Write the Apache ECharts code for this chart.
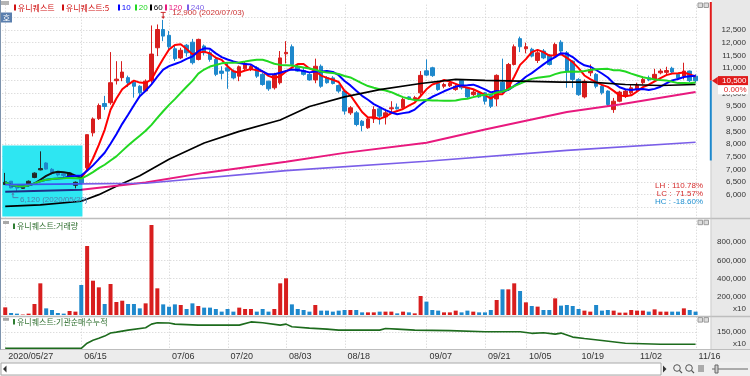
<!DOCTYPE html>
<html><head><meta charset="utf-8">
<script src="https://cdn.jsdelivr.net/npm/echarts/dist/echarts.min.js"></script>
<style>html,body{margin:0;padding:0;background:#fff}#c{width:750px;height:376px}</style>
</head><body><div id="c"></div>
<script>
const dates = ['05/27','05/28','05/29',
'06/01','06/02','06/03','06/04','06/05','06/08','06/09','06/10','06/11','06/12','06/15','06/16','06/17','06/18','06/19','06/22','06/23','06/24','06/25','06/26','06/29','06/30',
'07/01','07/02','07/03','07/06','07/07','07/08','07/09','07/10','07/13','07/14','07/15','07/16','07/17','07/20','07/21','07/22','07/23','07/24','07/27','07/28','07/29','07/30','07/31',
'08/03','08/04','08/05','08/06','08/07','08/10','08/11','08/12','08/13','08/14','08/18','08/19','08/20','08/21','08/24','08/25','08/26','08/27','08/28','08/31',
'09/01','09/02','09/03','09/04','09/07','09/08','09/09','09/10','09/11','09/14','09/15','09/16','09/17','09/18','09/21','09/22','09/23','09/24','09/25','09/28','09/29',
'10/05','10/06','10/07','10/08','10/12','10/13','10/14','10/15','10/16','10/19','10/20','10/21','10/22','10/23','10/26','10/27','10/28','10/29','10/30',
'11/02','11/03','11/04','11/05','11/06','11/09','11/10','11/11','11/12','11/13','11/16'];

const opens = [6400,6530,6290,6250,6420,6680,6980,7250,7000,6880,
6820,6720,6370,6650,7060,8440,9000,9600,9630,10500,
10620,10620,10440,10280,10100,10500,11800,12520,12290,11760,
11400,11900,12020,11340,11870,11600,11340,10880,11010,10880,
10680,10970,10960,11010,10750,10480,10220,10420,11560,11840,
11070,10900,10750,10530,11070,10620,10610,10310,10090,9230,
9230,8900,8640,8990,9390,9070,9390,9450,9430,9860,
9760,10020,10890,11010,10390,10280,10300,10150,10510,10220,
9950,10020,10020,9920,9780,10440,10180,11140,12160,11760,
11740,11300,11670,11500,11470,12020,11600,11270,10550,9860,
10810,10750,10280,10090,9360,9690,9890,10020,10150,10420,
10610,10550,10810,10830,10990,10750,10680,10880,10680];

const closes = [6490,6270,6260,6280,6530,6850,7030,7010,6850,6780,
6760,6850,6490,6440,8370,8990,9520,9480,10420,10560,
10840,10420,10280,10020,10480,11550,12520,12260,11840,11370,
11700,11600,11210,12130,11600,11340,10750,10790,10880,10610,
11050,11180,11060,10680,10350,10180,10750,11400,11620,11140,
10880,10750,10530,11070,10280,10420,10390,10090,9300,9430,
8770,8730,8990,9360,9100,9230,9430,9390,9760,9780,
9830,10710,10720,10700,10150,10350,10400,10280,10220,9860,
10050,9860,9690,9490,10710,10090,11140,11840,11840,11840,
11470,11600,11400,11140,11930,11670,10880,10550,9950,10480,
10940,10280,10020,9560,9690,10050,10090,10220,10310,10550,
10530,10750,10880,10900,10840,10610,10880,10500,10500];

const lows = [6390,6250,6120,6230,6400,6650,6960,6990,6800,6720,
6700,6700,6250,6400,6950,8300,8950,9350,9550,10350,
10480,10250,9830,9850,10050,10420,11470,12060,11730,11280,
11350,11450,11140,11300,11500,11250,10680,10550,10180,10550,
10480,10900,10880,10610,10300,10100,10150,10350,11180,11070,
10850,10700,10500,10400,10220,10380,10350,10020,9160,9150,
8700,8500,8600,8830,8770,8770,9230,9360,9360,9740,
9700,9890,10680,10650,10100,10200,10250,10100,10150,9820,
9900,9820,9560,9420,9490,10020,10100,11100,11630,11580,
11420,11200,11350,11100,11400,11600,10220,10220,9900,9800,
10680,10200,9950,9500,9230,9650,9820,9950,10090,10350,
10480,10480,10750,10750,10780,10560,10550,10450,10420];

const highs = [6860,6540,6300,6300,6560,6880,7710,7280,7050,6900,
6840,6880,6520,6700,8370,9050,9600,9900,11630,11270,
11270,10700,10500,10320,10550,12680,12720,12900,12460,11870,
11800,11950,12150,12160,11930,11700,11450,11070,11210,10940,
11100,11250,11150,11070,10800,10500,10810,11670,12060,11930,
11150,11000,10800,11370,11140,10680,10680,10350,10120,9500,
9300,8950,9050,9490,9420,9390,9690,9600,9820,9890,
9900,10880,11340,11050,10450,10420,10480,10350,10550,10250,
10150,10050,10050,9950,10750,11370,11200,11930,12240,12000,
11800,11730,11750,11550,12000,12100,11670,11300,10600,10550,
11140,10800,10350,10120,9820,10100,10150,10350,10420,10680,
10700,10970,10970,11050,11050,10800,11210,10900,10750];

const volumes = [84000,22000,15000,5000,15000,121000,348000,73000,55000,22000,
15000,44000,37000,330000,758000,377000,304000,121000,341000,143000,
157000,121000,121000,73000,128000,989000,293000,117000,91000,117000,
110000,66000,128000,99000,81000,81000,66000,37000,66000,37000,
81000,66000,66000,37000,66000,37000,66000,348000,403000,117000,
66000,55000,37000,110000,48000,48000,37000,48000,55000,55000,
55000,29000,29000,29000,37000,37000,37000,18000,37000,29000,
18000,209000,147000,55000,48000,29000,29000,48000,29000,48000,
37000,29000,29000,55000,165000,282000,282000,348000,264000,139000,
99000,92000,55000,55000,183000,103000,110000,99000,66000,48000,
37000,110000,48000,55000,48000,26000,26000,55000,48000,48000,
37000,62000,37000,37000,37000,37000,73000,55000,37000];

// long moving averages (need history before the visible window): [dayIndex, value]
const ma60Knots = [[0,5540],[6,5600],[13,5740],[16,6000],[19,6330],[23,6750],[28,7400],[34,8040],[40,8500],[47,8950],[52,9480],[58,9860],[64,10150],[71,10390],[77,10550],[82,10510],[88,10480],[95,10440],[100,10440],[106,10350],[112,10310],[118,10350]];
const ma120Knots = [[0,6120],[13,6190],[24,6480],[34,6860],[48,7300],[58,7650],[72,8050],[82,8570],[96,9260],[105,9560],[118,10050]];
const ma240Knots = [[0,6400],[13,6430],[24,6450],[48,6950],[72,7320],[96,7750],[118,8070]];
// institutional cumulative net buying: [dayIndex, value]
const instKnots = [[0,2000],[13,2000],[14,48000],[15,75000],[16,92000],[17,112000],[18,140000],[19,148000],[21,166000],[24,187000],[25,220000],[26,232000],[28,230000],[29,220000],[33,211000],[40,211000],[42,240000],[44,232000],[47,211000],[48,220000],[49,197000],[52,184000],[55,175000],[57,166000],[64,166000],[65,180000],[67,175000],[70,166000],[76,161000],[82,151000],[88,151000],[90,137000],[92,142000],[94,130000],[95,139000],[97,103000],[99,90000],[102,72000],[106,47000],[112,38000],[118,38000]];

const maPeriods = [5,10,20,60,120,240];
const xTickIndex = [0,13,28,38,48,58,72,82,89,98,108,118];
const xTickText = ['2020/05/27','06/15','07/06','07/20','08/03','08/18','09/07','09/21','10/05','10/19','11/02','11/16'];
const priceTickRange = [6000,12500];
const volumeTicks = [200000,400000,600000,800000];
const instTicks = [150000];
const highlightBox = {x0:-0.5, x1:13.2, yLow:5140, yHigh:7940};
const stockName = '유니퀘스트';
const year = '2020';
</script>
<script>
const RED='#d81e1e', BLUE='#1e88cc', CJK='"Noto Sans CJK KR"', LAT='"Liberation Sans"';
const MA_COLORS=['#ff0000','#0000ff','#22d822','#000000','#e8197e','#7a5ee8'];
const N = dates.length;
function sma(n){return closes.map((c,i)=>{const s=Math.max(0,i-n+1);let t=0;for(let k=s;k<=i;k++)t+=closes[k];return Math.round(t/(i-s+1));});}
const fmt = v => Number(v).toLocaleString('en-US');
const isUp = i => closes[i] > opens[i] || (closes[i]===opens[i] && i>0 && closes[i]>=closes[i-1]);

const gridL=2.3, gridW=696.2;
const grids=[
 {left:gridL, top:4.7, width:gridW, height:215.3},
 {left:gridL, top:224, width:gridW, height:91},
 {left:gridL, top:318.6, width:gridW, height:29.9}
];
// pixel x of the highlight box right edge, for two-colour line gradients
const boxEdgePx = gridL + (highlightBox.x1+0.5)*gridW/N;
const split2 = (c1,c2)=>({type:'linear', x:0, y:0, x2:750, y2:0, global:true,
  colorStops:[{offset:0,color:c1},{offset:boxEdgePx/750,color:c1},{offset:boxEdgePx/750+0.0001,color:c2},{offset:1,color:c2}]});

const splitStyle={show:true, showMinLine:false, showMaxLine:false, lineStyle:{color:'#cfcfcf', type:[1,2], width:1}};
const ylab = {fontSize:8, fontFamily:LAT, color:'#333', align:'right', margin:47.5};

const candleData = dates.map((d,i)=>{
  const it={value:[opens[i],closes[i],lows[i],highs[i]]};
  if(i<=13 && closes[i]>opens[i]) it.itemStyle={color:'#262626',borderColor:'#262626'};
  return it;
});
const volData = volumes.map((v,i)=>({value:v, itemStyle:{color: isUp(i)?RED:BLUE}}));

const option={
 animation:false,
 backgroundColor:'#ffffff',
 grid:grids,
 xAxis:[
  {type:'category', gridIndex:0, data:dates, show:false},
  {type:'category', gridIndex:1, data:dates, show:false},
  {type:'category', gridIndex:2, data:dates, axisLine:{show:false}, axisTick:{show:false}, splitLine:{show:false},
   axisLabel:{interval:(idx)=>xTickIndex.includes(idx), hideOverlap:false,
     formatter:(val,idx)=>{const k=xTickIndex.indexOf(idx);return k>=0?xTickText[k]:'';},
     align:'left', padding:[0,0,0,3], fontSize:9, fontFamily:LAT, color:'#333', margin:4}},
  {type:'value', gridIndex:0, min:-0.5, max:N-0.5, show:false}
 ],
 yAxis:[
  {type:'value', gridIndex:0, position:'right', min:5000, max:13500, interval:500, axisLine:{show:false}, axisTick:{show:false},
   splitLine:splitStyle, axisLabel:Object.assign({formatter:v=>(v>=priceTickRange[0]&&v<=priceTickRange[1])?fmt(v):''},ylab)},
  {type:'value', gridIndex:1, position:'right', min:0, max:1000000, interval:200000, axisLine:{show:false}, axisTick:{show:false},
   splitLine:splitStyle, axisLabel:Object.assign({formatter:v=>volumeTicks.includes(v)?fmt(v):''},ylab)},
  {type:'value', gridIndex:2, position:'right', min:0, max:270000, interval:150000, axisLine:{show:false}, axisTick:{show:false},
   splitLine:splitStyle, axisLabel:Object.assign({formatter:v=>instTicks.includes(v)?fmt(v):''},ylab)}
 ],
 series:[
  {type:'candlestick', xAxisIndex:0, yAxisIndex:0, barWidth:4, z:3, data:candleData,
   itemStyle:{color:RED, color0:BLUE, borderColor:RED, borderColor0:BLUE, borderWidth:1}},
  {type:'line', xAxisIndex:0, yAxisIndex:0, data:sma(maPeriods[0]), showSymbol:false, z:4, lineStyle:{width:2, color:split2('#111111',MA_COLORS[0])}},
  {type:'line', xAxisIndex:0, yAxisIndex:0, data:sma(maPeriods[1]), showSymbol:false, z:4, lineStyle:{width:2, color:MA_COLORS[1]}},
  {type:'line', xAxisIndex:0, yAxisIndex:0, data:sma(maPeriods[2]), showSymbol:false, z:4, lineStyle:{width:2, color:MA_COLORS[2]}},
  {type:'line', xAxisIndex:0, yAxisIndex:0, data:ma60Knots, showSymbol:false, z:4, lineStyle:{width:1.7, color:MA_COLORS[3]}},
  {type:'line', xAxisIndex:0, yAxisIndex:0, data:ma120Knots, showSymbol:false, z:4, lineStyle:{width:2, color:split2('#1d2d86',MA_COLORS[4])}},
  {type:'line', xAxisIndex:0, yAxisIndex:0, data:ma240Knots, showSymbol:false, z:4, lineStyle:{width:1.7, color:split2('#3f55f0',MA_COLORS[5])}},
  {type:'bar', xAxisIndex:1, yAxisIndex:1, data:volData, barWidth:4, z:3},
  {type:'line', xAxisIndex:2, yAxisIndex:2, data:instKnots, showSymbol:false, z:3, lineStyle:{width:1.6, color:'#1d6b1d'}}
 ]
};
const chart=echarts.init(document.getElementById('c'),null,{renderer:'canvas'});
chart.setOption(option);

// ---------- decorations ----------
const G=[];
const rect=(x,y,w,h,fill,z,stroke)=>G.push({type:'rect',silent:true,z:(z==null?-10:z),shape:{x,y,width:w,height:h},style:{fill,stroke:stroke||null,lineWidth:stroke?1:0}});
const line=(x1,y1,x2,y2,stroke,w,z,dash)=>G.push({type:'line',silent:true,z:(z==null?20:z),shape:{x1,y1,x2,y2},style:{stroke,lineWidth:w||1,lineDash:dash||null}});
const poly=(pts,fill,z)=>G.push({type:'polygon',silent:true,z:(z==null?20:z),shape:{points:pts},style:{fill}});
const text=(x,y,t,fill,size,align,family,z)=>G.push({type:'text',silent:true,z:(z==null?20:z),x,y,style:{text:t,fill,fontSize:size,fontFamily:family||LAT,align:align||'left',verticalAlign:'middle'}});
const P=(i,v)=>chart.convertToPixel({xAxisIndex:3,yAxisIndex:0},[i,v]);

// backgrounds
rect(711.5,0,38.5,349.5,'#e8e8e8',-10);
rect(0,349.5,750,12.5,'#ececec',-10);
rect(0,362,750,14,'#efefef',-10);
rect(1,363,660,12,'#ffffff',-9,'#a8a8a8');
poly([[3,369],[6.5,365.5],[6.5,372.5]],'#333');
poly([[666.5,369],[663,365.5],[663,372.5]],'#333');
G.push({type:'circle',silent:true,z:20,shape:{cx:677,cy:368,r:3.3},style:{fill:'none',stroke:'#555',lineWidth:1}});
line(679.4,370.4,682,373,'#555',1.2);
G.push({type:'circle',silent:true,z:20,shape:{cx:689,cy:368,r:3.3},style:{fill:'none',stroke:'#555',lineWidth:1}});
line(691.4,370.4,694,373,'#555',1.2);
for(let k=0;k<3;k++) line(699+k*2,365,699+k*2,372,'#666',1);
line(712,369,748,369,'#666',1);
rect(715,365,3,8,'#cfcfcf',20,'#666');

// vertical dotted grid lines at the labelled dates (all three panels)
for(const i of xTickIndex){ const x=Math.round(P(i,6000)[0])+0.5; line(x,4.7,x,348.5,'#cfcfcf',1,0.5,[1,2]); }

// highlight box (behind the candles)
const b0=P(highlightBox.x0,highlightBox.yHigh), b1=P(highlightBox.x1,highlightBox.yLow);
rect(b0[0],b0[1],b1[0]-b0[0],b1[1]-b0[1],'#2ee6f2',1);

// separators & borders
line(0,218.5,750,218.5,'#bdbdbd',1.5);
line(0,316.5,750,316.5,'#bdbdbd',1.5);
line(0,349.5,750,349.5,'#bdbdbd',1);
line(0.5,0,0.5,349.5,'#7d93ad',1);
line(711,160,711,349.5,'#c4c4c4',1);

// header icons
rect(1,1,8,4,'#b4b4b4',20);
rect(1,12.5,11,10,'#5a7fae',20);
text(6.5,17.6,'호','#ffffff',8,'center',CJK,21);
for(const y0 of [3,220.2,317.6]){ rect(698,y0,4.5,4.5,'#dddddd',20,'#9a9a9a'); rect(704,y0,4.5,4.5,'#dddddd',20,'#9a9a9a'); }

// legend
const legendItems=[
 {x:14, t:stockName, c:'#d01010', f:CJK},
 {x:62, t:stockName+':'+maPeriods[0], c:'#d01010', f:CJK},
 {x:118, t:String(maPeriods[1]), c:MA_COLORS[1], f:LAT},
 {x:135, t:String(maPeriods[2]), c:MA_COLORS[2], f:LAT},
 {x:150, t:String(maPeriods[3]), c:MA_COLORS[3], f:LAT},
 {x:165, t:String(maPeriods[4]), c:MA_COLORS[4], f:LAT},
 {x:187, t:String(maPeriods[5]), c:MA_COLORS[5], f:LAT}
];
for(const it of legendItems){ rect(it.x,4.5,2,6,it.c,20); text(it.x+3.8,7.6,it.t,it.c,8,'left',it.f); }

// panel headers
rect(3,221,6,3,'#a8a8a8',20); rect(13,223.5,2,5.5,'#2e7d32',20);
text(17,226.4,stockName+':거래량','#2f6f2f',8,'left',CJK);
rect(3,317.8,6,3,'#a8a8a8',20); rect(13,319,2,5.5,'#2e7d32',20);
text(17,321.9,stockName+':기관순매수누적','#2f6f2f',8,'left',CJK);
text(746,309,'x10','#333',8,'right');
text(746,344,'x10','#333',8,'right');

// high / low annotations
let iH=0,iL=0; for(let i=0;i<N;i++){ if(highs[i]>highs[iH]) iH=i; if(lows[i]<lows[iL]) iL=i; }
const [hx,hy]=P(iH,highs[iH]);
line(hx-2.5,hy-7.5,hx+2.5,hy-7.5,'#cc2a2a',1);
line(hx,hy-7.5,hx,hy-2.5,'#cc2a2a',1);
poly([[hx-1.8,hy-3.5],[hx+1.8,hy-3.5],[hx,hy-0.8]],'#cc2a2a');
text(hx+9,hy-7.3,fmt(highs[iH])+' ('+year+'/'+dates[iH]+')','#cc3333',8,'left');
const [lx,ly]=P(iL,lows[iL]);
line(lx-4,ly+2,lx-4,ly+6,'#4f7fb0',1);
poly([[lx-5.6,ly+3],[lx-2.4,ly+3],[lx-4,ly+0.5]],'#4f7fb0');
line(lx-4,ly+6,lx+1.5,ly+6,'#4f7fb0',1);
text(lx+3,ly+8.4,fmt(lows[iL])+' ('+year+'/'+dates[iL]+')','#4f7fb0',8,'left');

// LH / LC / HC
const last=closes[N-1], prev=closes[N-2];
const pad=s=>(' '.repeat(6)+s).slice(-6);
const LH=(highs[iH]/lows[iL]-1)*100, LC=(last/lows[iL]-1)*100, HC=(last/highs[iH]-1)*100;
text(703,186,'LH : '+pad(LH.toFixed(2))+'%','#d42a2a',8,'right');
text(703,194,'LC : '+pad(LC.toFixed(2))+'%','#d42a2a',8,'right');
text(703,202.2,'HC : '+pad(HC.toFixed(2))+'%','#2090d0',8,'right');

// current price tag, price-limit bar
const cy=P(N-1,last)[1];
const yU=Math.max(2,P(N-1,Math.round(last*1.3))[1]), yLw=P(N-1,Math.round(last*0.7))[1];
line(710.8,yU,710.8,cy,'#e01b1b',2,25);
line(710.8,cy,710.8,yLw,BLUE,2,25);
rect(718,cy-4.6,30,9.2,'#e01b1b',30);
poly([[712,cy],[717.8,cy-4],[717.8,cy+4]],'#e01b1b',30);
text(746.5,cy+0.2,fmt(last),'#ffffff',8,'right',LAT,31);
rect(718,cy+4.6,30,9,'#ffffff',30);
text(746.5,cy+9.2,((last-prev)/prev*100).toFixed(2)+'%','#e01b1b',8,'right',LAT,31);

chart.setOption({graphic:{elements:G}});
</script>
</body></html>
